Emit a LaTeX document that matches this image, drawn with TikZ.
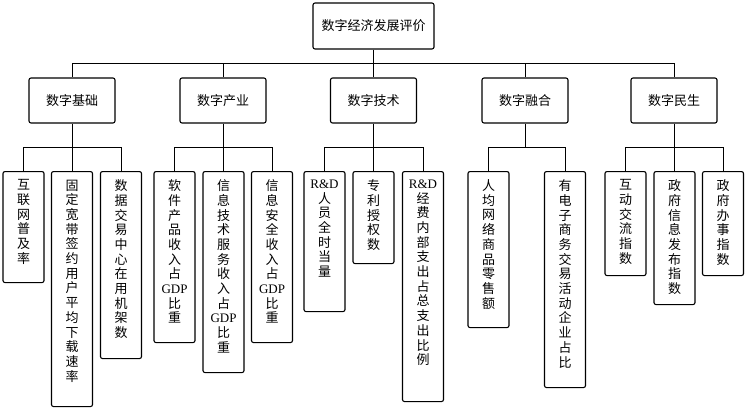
\documentclass[tikz,border=0pt]{standalone}
\usepackage{fontspec}
\setmainfont{Liberation Serif}
\newfontfamily\cjk{Noto Sans CJK SC}
\newfontfamily\latf{Liberation Serif}
\newcommand\lat[1]{{\latf #1}}
\begin{document}
\begin{tikzpicture}[x=1pt,y=-1pt,
  box/.style={draw, line width=1.1pt, rounded corners=2pt, inner sep=0pt},
  top/.style={box, minimum width=121pt, minimum height=46pt, font=\fontsize{13}{15}\selectfont\cjk},
  mid/.style={box, minimum width=86pt, minimum height=45pt, font=\fontsize{13}{15}\selectfont\cjk},
  leaf/.style={box, minimum width=41pt, anchor=north},
  vt/.style={anchor=north, yshift=-8.5pt, align=center, inner sep=0pt, font=\fontsize{13}{14.7}\selectfont\cjk},
  link/.style={line width=0.9pt}]
\useasboundingbox (0,0) rectangle (746,408);
\coordinate (busA) at (0,63);
\coordinate (busB) at (0,147);

\node[top] (root) at (373.5,26) {数字经济发展评价};
\node[mid] (c1) at (72,100.5) {数字基础};
\node[mid] (c2) at (223,100.5) {数字产业};
\node[mid] (c3) at (373.5,100.5) {数字技术};
\node[mid] (c4) at (525,100.5) {数字融合};
\node[mid] (c5) at (674,100.5) {数字民生};

\node[leaf, minimum height=111pt, label={[vt]north:互\\联\\网\\普\\及\\率}] (a1) at (23.5,171) {};
\node[leaf, minimum height=235pt, label={[vt]north:固\\定\\宽\\带\\签\\约\\用\\户\\平\\均\\下\\载\\速\\率}] (a2) at (72,171) {};
\node[leaf, minimum height=187pt, label={[vt]north:数\\据\\交\\易\\中\\心\\在\\用\\机\\架\\数}] (a3) at (121,171) {};

\node[leaf, minimum height=171pt, label={[vt]north:软\\件\\产\\品\\收\\入\\占\\\lat{GDP}\\比\\重}] (b1) at (174.5,171) {};
\node[leaf, minimum height=201pt, label={[vt]north:信\\息\\技\\术\\服\\务\\收\\入\\占\\\lat{GDP}\\比\\重}] (b2) at (223.5,171) {};
\node[leaf, minimum height=171pt, label={[vt]north:信\\息\\安\\全\\收\\入\\占\\\lat{GDP}\\比\\重}] (b3) at (272,171) {};

\node[leaf, minimum height=140pt, label={[vt]north:\lat{R\&D}\\人\\员\\全\\时\\当\\量}] (d1) at (324.5,171) {};
\node[leaf, minimum height=92pt, label={[vt]north:专\\利\\授\\权\\数}] (d2) at (373.5,171) {};
\node[leaf, minimum height=230pt, label={[vt]north:\lat{R\&D}\\经\\费\\内\\部\\支\\出\\占\\总\\支\\出\\比\\例}] (d3) at (423,171) {};

\node[leaf, minimum height=156pt, label={[vt]north:人\\均\\网\\络\\商\\品\\零\\售\\额}] (e1) at (488.5,171) {};
\node[leaf, minimum height=216pt, label={[vt]north:有\\电\\子\\商\\务\\交\\易\\活\\动\\企\\业\\占\\比}] (e2) at (565,171) {};

\node[leaf, minimum height=104pt, label={[vt]north:互\\动\\交\\流\\指\\数}] (f1) at (625.5,171) {};
\node[leaf, minimum height=133pt, label={[vt]north:政\\府\\信\\息\\发\\布\\指\\数}] (f2) at (674.5,171) {};
\node[leaf, minimum height=104pt, label={[vt]north:政\\府\\办\\事\\指\\数}] (f3) at (723,171) {};

% level 1 -> level 2
\draw[link] (root.south) -- (root.south |- busA);
\draw[link] (c1.north |- busA) -- (c5.north |- busA);
\foreach \c in {c1,c2,c3,c4,c5} \draw[link] (\c.north |- busA) -- (\c.north);

% level 2 -> level 3
\foreach \p/\l/\r in {c1/a1/a3, c2/b1/b3, c3/d1/d3, c4/e1/e2, c5/f1/f3} {
  \draw[link] (\p.south) -- (\p.south |- busB);
  \draw[link] (\l.north |- busB) -- (\r.north |- busB);
}
\foreach \n in {a1,a2,a3,b1,b2,b3,d1,d2,d3,e1,e2,f1,f2,f3} \draw[link] (\n.north |- busB) -- (\n.north);
\end{tikzpicture}
\end{document}
